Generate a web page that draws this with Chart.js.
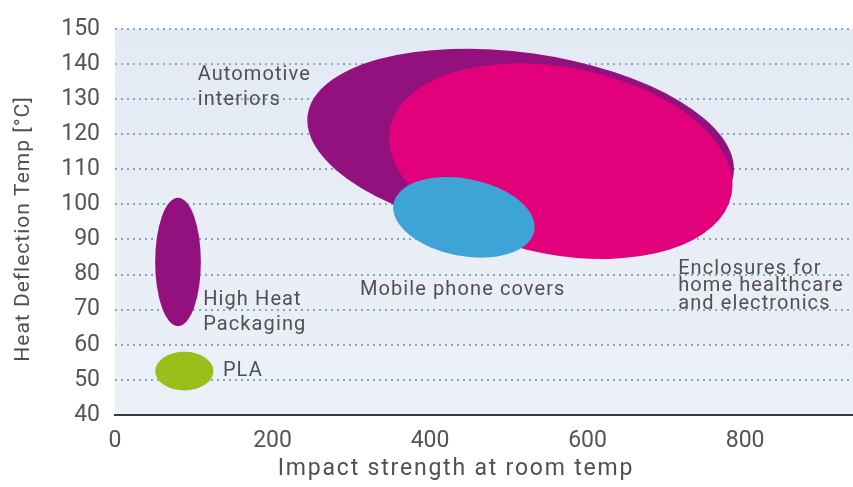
<!DOCTYPE html>
<html>
<head>
<meta charset="utf-8">
<script src="https://cdn.jsdelivr.net/npm/chart.js@4.4.0/dist/chart.umd.min.js"></script>
<style>
  html, body { margin: 0; padding: 0; background: #fff; }
  #wrap { width: 853px; height: 487px; }
</style>
</head>
<body>
<div id="wrap"><canvas id="chart"></canvas></div>
<script>
// Application areas as ranges: impact strength vs heat deflection temperature
const areas = ['Automotive interiors', 'Enclosures for home healthcare and electronics', 'Mobile phone covers', 'High Heat Packaging', 'PLA'];
const impactMid = [515, 566, 443, 80, 88];
const impactHalfRange = [273, 221, 91, 29, 37];
const tempMid = [117, 112.3, 96.3, 83.6, 52.5];
const tempHalfRange = [26.2, 26.7, 11, 18.3, 5.5];
const tiltDeg = [8, 11, 11, 0, 0];

const xTicks = [0, 200, 400, 600, 800];
const yTicks = [40, 50, 60, 70, 80, 90, 100, 110, 120, 130, 140, 150];

const fills = ['#93117e', '#e3007b', '#3ea4d8', '#93117e', '#99bf1a'];

// text callouts, anchored at first line baseline (data units)
const notes = [
    { lines: ['Automotive', 'interiors'], x: 105, y: 135.4, lead: 25 },
    { lines: ['High Heat', 'Packaging'], x: 112, y: 71.2, lead: 25 },
    { lines: ['PLA'], x: 137, y: 51, lead: 0 },
    { lines: ['Mobile phone covers'], x: 311, y: 74.3, lead: 0 },
    { lines: ['Enclosures for', 'home healthcare', 'and electronics'], x: 715, y: 80.2, lead: 17.5 }
];

const FONT = 'Roboto, "DejaVu Sans", sans-serif';
const TEXT = '#505050';

const plotBackground = {
    id: 'plotBackground',
    beforeDraw(chart) {
        const { ctx, chartArea: a } = chart;
        const g = ctx.createLinearGradient(0, a.top, 0, a.bottom);
        g.addColorStop(0, '#e4eaf4');
        g.addColorStop(1, '#ecf0f8');
        ctx.save();
        ctx.fillStyle = g;
        ctx.fillRect(a.left, a.top, a.right - a.left, a.bottom - a.top);
        ctx.restore();
    }
};

const rangeEllipses = {
    id: 'rangeEllipses',
    beforeDatasetsDraw(chart) {
        const { ctx, chartArea: a, scales: { x, y } } = chart;
        ctx.save();
        ctx.beginPath();
        ctx.rect(a.left, a.top, a.right - a.left, a.bottom - a.top);
        ctx.clip();
        areas.forEach((name, i) => {
            const cx = x.getPixelForValue(impactMid[i]);
            const cy = y.getPixelForValue(tempMid[i]);
            const rx = Math.abs(x.getPixelForValue(impactMid[i] + impactHalfRange[i]) - cx);
            const ry = Math.abs(y.getPixelForValue(tempMid[i] + tempHalfRange[i]) - cy);
            ctx.beginPath();
            ctx.ellipse(cx, cy, rx, ry, tiltDeg[i] * Math.PI / 180, 0, Math.PI * 2);
            ctx.fillStyle = fills[i];
            ctx.fill();
        });
        ctx.restore();
    },
    afterDatasetsDraw(chart) {
        const { ctx, scales: { x, y } } = chart;
        ctx.save();
        ctx.font = '20px ' + FONT;
        ctx.letterSpacing = '1.1px';
        ctx.fillStyle = TEXT;
        ctx.textBaseline = 'alphabetic';
        notes.forEach(n => {
            const px = x.getPixelForValue(n.x);
            const py = y.getPixelForValue(n.y);
            n.lines.forEach((line, k) => ctx.fillText(line, px, py + k * n.lead));
        });
        ctx.restore();
    }
};

// axis titles are placed by hand, they sit a bit off the plot centre
const axisTitles = {
    id: 'axisTitles',
    afterDraw(chart) {
        const { ctx } = chart;
        ctx.save();
        ctx.fillStyle = TEXT;
        ctx.font = '23px ' + FONT;
        ctx.letterSpacing = '1.8px';
        ctx.textAlign = 'center';
        ctx.textBaseline = 'middle';
        ctx.fillText('Impact strength at room temp', 456, 469);
        ctx.translate(24, 229);
        ctx.rotate(-Math.PI / 2);
        ctx.font = '21px ' + FONT;
        ctx.letterSpacing = '1px';
        ctx.fillText('Heat Deflection Temp [°C]', 0, 0);
        ctx.restore();
    }
};

new Chart(document.getElementById('chart'), {
    type: 'scatter',
    data: {
        datasets: [{
            label: 'Application areas',
            data: areas.map((_, i) => ({ x: impactMid[i], y: tempMid[i] })),
            pointRadius: 0,
            pointHoverRadius: 0
        }]
    },
    options: {
        responsive: true,
        maintainAspectRatio: false,
        animation: false,
        layout: { padding: { top: 24, right: 0, left: 0, bottom: 0 } },
        plugins: {
            legend: { display: false },
            tooltip: { enabled: false }
        },
        scales: {
            x: {
                type: 'linear',
                min: 0,
                max: 937,
                afterBuildTicks: scale => { scale.ticks = xTicks.map(v => ({ value: v })); },
                afterFit: scale => { scale.height = 72; },
                grid: { display: false, drawTicks: false },
                border: { display: true, color: '#3a3a3a', width: 2 },
                ticks: {
                    padding: 12,
                    color: '#555',
                    font: { family: FONT, size: 23 }
                }
            },
            y: {
                type: 'linear',
                min: 40,
                max: 150,
                afterBuildTicks: scale => { scale.ticks = yTicks.map(v => ({ value: v })); },
                afterFit: scale => { scale.width = 115; },
                grid: {
                    drawTicks: false,
                    lineWidth: 2,
                    color: c => (c.tick && c.tick.value === 40) ? 'rgba(0,0,0,0)' : '#7aadbd'
                },
                border: { display: false, dash: [2, 4] },
                ticks: {
                    padding: 15,
                    color: '#555',
                    font: { family: FONT, size: 23 }
                }
            }
        }
    },
    plugins: [plotBackground, rangeEllipses, axisTitles]
});
</script>
</body>
</html>
